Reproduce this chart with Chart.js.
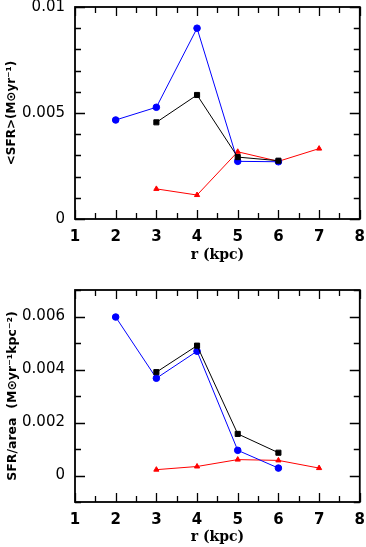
<!DOCTYPE html>
<html>
<head>
<meta charset="utf-8">
<script src="https://cdn.jsdelivr.net/npm/chart.js@4/dist/chart.umd.min.js"></script>
<style>
  html, body { margin: 0; padding: 0; background: #fff; }
  body { width: 366px; height: 547px; position: relative; overflow: hidden; }
  canvas { position: absolute; left: 0; }
  #c1 { top: -20px; }
  #c2 { top: 265px; }
</style>
</head>
<body>
<canvas id="c1" width="376" height="285"></canvas>
<canvas id="c2" width="376" height="282"></canvas>
<script>
// ---- data ----
const rBlue = [2, 3, 4, 5, 6];
const rBlack = [3, 4, 5, 6];
const rRed = [3, 4, 5, 6, 7];

const sfrBlue = [0.00467, 0.00527, 0.0090, 0.00272, 0.00270];
const sfrBlack = [0.00456, 0.00585, 0.00292, 0.00275];
const sfrRed = [0.00142, 0.00113, 0.00317, 0.00272, 0.00332];

const areaBlue = [0.00598, 0.00367, 0.00469, 0.00095, 0.00028];
const areaBlack = [0.00390, 0.00490, 0.00157, 0.00086];
const areaRed = [0.00022, 0.00034, 0.00060, 0.00057, 0.00028];

const xTickLabels = ['1', '2', '3', '4', '5', '6', '7', '8'];
const topYLabels = ['0', '0.005', '0.01'];
const botYLabels = ['0', '0.002', '0.004', '0.006'];

const xTitle = 'r (kpc)';
const topYTitle = '<SFR>(M\u2299yr\u207B\u00B9)';
const botYTitle = 'SFR/area  (M\u2299yr\u207B\u00B9kpc\u207B\u00B2)';

function pts(xs, ys) { return xs.map((x, i) => ({ x: x, y: ys[i] })); }

const framePlugin = {
  id: 'frame',
  afterDraw(chart) {
    const ctx = chart.ctx, a = chart.chartArea;
    const xs = chart.scales.x, ys = chart.scales.y;
    ctx.save();
    ctx.strokeStyle = '#000';
    ctx.lineWidth = 1.3;
    ctx.beginPath();
    for (let v = xs.min; v <= xs.max + 1e-9; v += 0.5) {
      const px = Math.round(xs.getPixelForValue(v)) + 0.5;
      const len = Math.abs(v - Math.round(v)) < 1e-6 ? 9 : 6;
      ctx.moveTo(px, a.bottom); ctx.lineTo(px, a.bottom - len);
      ctx.moveTo(px, a.top); ctx.lineTo(px, a.top + len);
    }
    const major = chart.options.plugins.frame.major;
    for (let k = Math.round(ys.min / 0.001); k <= Math.round(ys.max / 0.001); k++) {
      const v = k * 0.001;
      const py = Math.round(ys.getPixelForValue(v)) + 0.5;
      const len = (k % major === 0) ? 10 : 6;
      ctx.moveTo(a.left, py); ctx.lineTo(a.left + len, py);
      ctx.moveTo(a.right, py); ctx.lineTo(a.right - len, py);
    }
    ctx.stroke();
    ctx.lineWidth = 1.8;
    ctx.strokeRect(a.left, a.top, a.right - a.left, a.bottom - a.top);
    ctx.restore();
  }
};

function makeChart(id, blue, black, red, yMin, yMax, yLabels, yTitle, titleSize, major, padTop, xAxisH) {
  const ds = (label, data, color, style, r) => ({
    label, data, borderColor: color, backgroundColor: color,
    borderWidth: 1, pointStyle: style, pointRadius: r, pointHoverRadius: r,
    showLine: true, tension: 0, fill: false
  });
  new Chart(document.getElementById(id), {
    type: 'scatter',
    data: {
      datasets: [
        ds('black', pts(rBlack, black), '#000000', 'rect', 3.6),
        ds('blue', pts(rBlue, blue), '#0000ff', 'circle', 3.3),
        ds('red', pts(rRed, red), '#ff0000', 'triangle', 3.0)
      ]
    },
    options: {
      responsive: false,
      animation: false,
      devicePixelRatio: 1,
      layout: { padding: { left: 0, right: 0, top: padTop, bottom: 0 } },
      plugins: { legend: { display: false }, tooltip: { enabled: false }, frame: { major: major } },
      scales: {
        x: {
          type: 'linear', min: 1, max: 8,
          grid: { display: false, drawTicks: false },
          border: { display: false },
          ticks: {
            stepSize: 1, padding: 11, maxRotation: 0, autoSkip: false,
            color: '#000',
            font: { family: 'DejaVu Sans', size: 15, weight: 'bold', lineHeight: 1 },
            callback: (v) => {
              const i = Math.round(v) - 1;
              return Math.abs(v - Math.round(v)) < 1e-9 ? xTickLabels[i] : '';
            }
          },
          title: {
            display: true, text: xTitle, color: '#000',
            font: { family: 'DejaVu Serif', size: 14, weight: 'bold', lineHeight: 1 },
            padding: { top: 0, bottom: 3 }
          },
          afterFit: (s) => { s.height = xAxisH; }
        },
        y: {
          type: 'linear', min: yMin, max: yMax,
          grid: { display: false, drawTicks: false },
          border: { display: false },
          ticks: {
            stepSize: 0.001, padding: 10, autoSkip: false, color: '#000',
            font: { family: 'DejaVu Sans', size: 15, lineHeight: 1 },
            callback: (v) => {
              const k = Math.round(v / 0.001);
              if (Math.abs(v / 0.001 - k) > 1e-6 || k % major !== 0 || k < 0) return '';
              return yLabels[k / major];
            }
          },
          title: {
            display: true, text: yTitle, color: '#000',
            font: { family: 'DejaVu Sans', size: titleSize, weight: 'bold', lineHeight: 1 },
            padding: { top: 6, bottom: 0 }
          },
          afterFit: (s) => { s.width = 75; }
        }
      }
    },
    plugins: [framePlugin]
  });
}

makeChart('c1', sfrBlue, sfrBlack, sfrRed, 0, 0.01, topYLabels, topYTitle, 12, 5, 27, 46);
makeChart('c2', areaBlue, areaBlack, areaRed, -0.001, 0.007, botYLabels, botYTitle, 12.5, 2, 25, 45);
</script>
</body>
</html>
